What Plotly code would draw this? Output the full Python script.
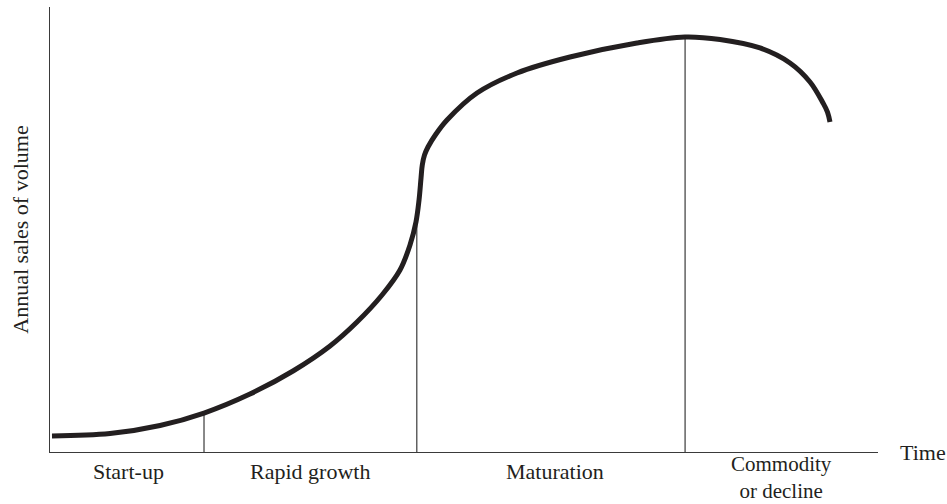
import plotly.graph_objects as go

# Product life cycle curve (time and volume in relative units, 0-100)
time_values = [0.24, 7.25, 13.29, 18.60, 24.15, 29.35, 33.82, 37.08, 40.10, 42.27,
               43.48, 44.20, 44.57, 44.81, 44.96, 45.23, 45.65, 46.62, 47.95, 51.57,
               56.40, 62.80, 70.89, 76.69, 80.92, 85.75, 89.37, 91.79, 93.36, 93.90,
               94.20]
sales_values = [3.60, 4.16, 5.96, 8.76, 13.03, 18.20, 23.82, 29.21, 35.28, 40.90,
                46.52, 51.69, 56.63, 61.57, 64.49, 66.74, 68.54, 71.46, 74.61, 80.67,
                85.17, 88.76, 91.91, 93.26, 92.70, 90.79, 87.42, 83.15, 78.43, 76.40,
                74.16]

# Stage boundaries (time) and curve height at each boundary
boundary_times = [18.6, 44.3, 76.7]
boundary_heights = [8.8, 53.5, 93.3]

# Stage labels and their centre positions on the time axis
stage_labels = ["Start-up", "Rapid growth", "Maturation", "Commodity<br>or decline"]
stage_centers = [9.5, 31.4, 61.0, 88.3]

FONT = "Liberation Serif"
INK = "#231f20"
AXIS = "#3a3a3a"

fig = go.Figure()

for bt, bh in zip(boundary_times, boundary_heights):
    fig.add_trace(go.Scatter(x=[bt, bt], y=[0, bh], mode="lines",
                             line=dict(color=AXIS, width=1.2),
                             hoverinfo="skip", showlegend=False))

fig.add_trace(go.Scatter(x=time_values, y=sales_values, mode="lines",
                         line=dict(color=INK, width=5, shape="spline", smoothing=1.0),
                         showlegend=False))

for lab, cx in zip(stage_labels, stage_centers):
    two = "<br>" in lab
    fig.add_annotation(x=cx, xref="x", y=-0.058 if two else -0.043, yref="paper",
                       text=lab, showarrow=False, xanchor="center", yanchor="middle",
                       font=dict(family=FONT, size=21 if two else 22, color=INK))

fig.add_annotation(x=1.024, xref="paper", y=0, yref="paper", text="Time",
                   showarrow=False, xanchor="left", yanchor="middle",
                   font=dict(family=FONT, size=22, color=INK))

fig.add_annotation(x=-0.036, xref="paper", y=0.5, yref="paper",
                   text="Annual sales of volume", textangle=-90, showarrow=False,
                   xanchor="center", yanchor="middle",
                   font=dict(family=FONT, size=22, color=INK))

fig.update_xaxes(range=[0, 100], showline=True, linecolor=AXIS, linewidth=1.3,
                 showgrid=False, zeroline=False, showticklabels=False, ticks="")
fig.update_yaxes(range=[0, 100], showline=True, linecolor=AXIS, linewidth=1.3,
                 showgrid=False, zeroline=False, showticklabels=False, ticks="")

fig.update_layout(width=947, height=504, margin=dict(l=50, r=69, t=7, b=52),
                  plot_bgcolor="white", paper_bgcolor="white",
                  font=dict(family=FONT, color=INK))

fig.write_html("out.html", config={"displayModeBar": False},
               post_script="document.body.style.margin='0';document.body.style.overflow='hidden';")
